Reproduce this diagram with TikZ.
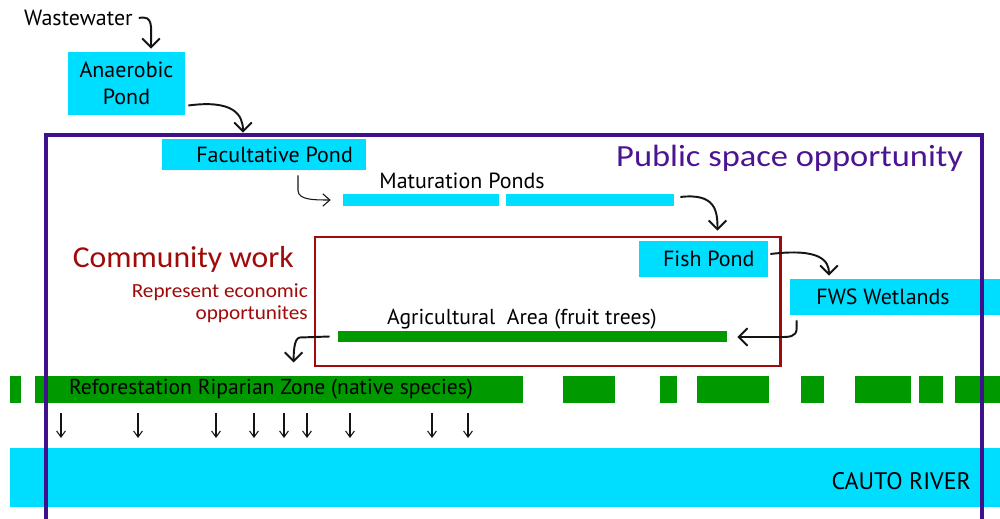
\documentclass[tikz,border=0pt]{standalone}
\usepackage{fontspec}
\usepackage{graphicx}
\setmainfont{PT Sans}
\newfontfamily\calfont{Carlito}
\usetikzlibrary{arrows.meta,calc}
\definecolor{cy}{RGB}{0,222,255}
\definecolor{gr}{RGB}{0,154,0}
\definecolor{pu}{RGB}{62,16,140}
\definecolor{pt}{RGB}{75,20,145}
\definecolor{rd}{RGB}{160,10,10}
\definecolor{ink}{RGB}{20,20,20}
\newcommand\fsW{\fontsize{12.5}{15.2}\selectfont}
\newcommand\fsC{\calfont\fontsize{17.3}{19}\selectfont}
\newcommand\fsR{\calfont\fontsize{11.4}{13}\selectfont}
\newcommand\fsP{\calfont\fontsize{17.5}{19}\selectfont}
\begin{document}
\begin{tikzpicture}[x=0.02cm,y=-0.02cm,
  wh/.style 2 args={minimum width=#1*0.02cm, minimum height=#2*0.02cm},
  pond/.style={fill=cy, inner sep=0pt, font=\fsW, text=black},
  bar/.style={fill=gr, inner sep=0pt},
  lbl/.style={font=\fsW, text=black},
  conn/.style={draw=ink, line width=1.1pt, -{Straight Barb[length=5pt,width=10pt]}},
  thin/.style={draw=ink, line width=0.6pt, -{Straight Barb[length=4pt,width=7pt]}},
  darr/.style={draw=ink, line width=0.6pt, -{Straight Barb[length=3.5pt,width=5pt]}}]
\clip (0,0) rectangle (1000,519);
\fill[white] (0,0) rectangle (1000,519);

% river
\node[fill=cy, inner sep=0pt, wh={990}{59}] (river) at (505,477.5) {};
\node[lbl, anchor=east, font=\fontsize{13.6}{16}\selectfont] (rivertxt) at (977,481) {CAUTO RIVER};

% reforestation zone
\foreach \a/\b in {10/21,35/523,563/615,660/677,697/769,801/824,855/911,919/943,955/1000}
  \fill[gr] (\a,376) rectangle (\b,403);
\node[lbl, font=\fontsize{12.3}{15}\selectfont] (refo) at (271,389) {Reforestation Riparian Zone (native species)};
\foreach \x in {61,138,216,254,284,307,350,432,468}
  \draw[darr] (\x,413) -- (\x,438);

% top ponds
\node[lbl, anchor=west] (ww) at (18,18) {Wastewater};
\node[pond, wh={117}{63}, align=center] (ana) at (126.5,83.5) {Anaerobic\\Pond};
\node[pond, wh={204}{31}] (fac) at (264,154.5) {\hspace{12pt}Facultative Pond};
\node[pond, wh={156}{12}] (m1) at (421,200) {};
\node[pond, wh={168}{12}] (m2) at (590,200) {};
\node[lbl] (mt) at (462,181) {Maturation Ponds};
\node[pond, wh={129}{36}] (fish) at (703.5,259) {\hspace{6pt}Fish Pond};
\node[pond, wh={210}{36}] (fws) at (895,297) {FWS Wetlands\kern13.6pt};

% community work
\node[draw=rd, line width=1.7pt, inner sep=0pt, wh={465}{129}] (comm) at (547.5,301.5) {};
\node[bar, wh={389}{11}] (agri) at (532.5,336.5) {};
\node[lbl, font=\fontsize{12.3}{15}\selectfont] (agritxt) at (522,319) {Agricultural\ \ Area (fruit trees)};
\node[anchor=east, text=rd, font=\fsC] (cw) at (300,259) {\scalebox{1.04}[1]{Community work}};
\node[anchor=east, text=rd, font=\fsR] (eco) at (314,304) {\scalebox{1.06}[1]{\begin{tabular}{@{}r@{}}Represent economic\\opportunites\end{tabular}}};

% public space
\draw[pu, line width=2.3pt] (46,530) -- (46,135) -- (982,135) -- (982,530);
\node[anchor=west, text=pt, font=\fsP] (pub) at (610,158) {\scalebox{1.12}[1]{Public space opportunity}};

% connectors
\draw[conn] (ww.east) .. controls +(15,-3) and +(0,-22) .. ($(ana.north)+(24.5,-3)$);
\draw[conn] ($(ana.east)+(3,22)$) .. controls +(45,-6) and +(0,-18) .. ($(fac.north)+(-21,-6)$);
\draw[thin] ($(fac.south)+(34,5)$) -- +(0,15) .. controls +(0,10) and +(-15,0) .. ($(m1.west)+(-12,0)$);
\draw[conn] ($(m2.east)+(6,-3)$) .. controls +(35,-4) and +(0,-20) .. ($(fish.north)+(14,-10)$);
\draw[conn] ($(fish.east)+(2,-5)$) .. controls +(50,-6) and +(0,-15) .. ($(fws.north)+(-66,-3)$);
\draw[conn] ($(fws.south west)+(7,5)$) -- +(0,8) .. controls +(0,9) and +(8,0) .. ($(agri.east)+(53,0.5)$) -- ($(agri.east)+(10,0.5)$);
\draw[conn] ($(agri.west)+(-8,0)$) -- +(-30,1) .. controls +(-6,1) and +(0,-8) .. ($(agri.west)+(-44,26)$);
\end{tikzpicture}
\end{document}
